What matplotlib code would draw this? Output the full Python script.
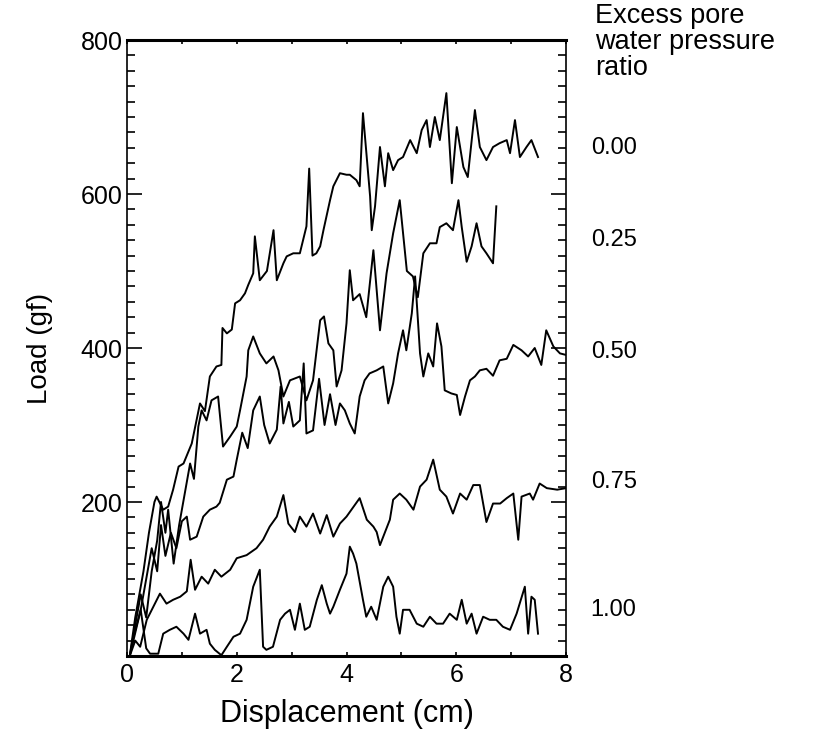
import matplotlib
matplotlib.use("Agg")
import matplotlib.pyplot as plt
import numpy as np

plt.rcParams['font.family'] = ['Liberation Sans', 'DejaVu Sans']

# values: displacement (cm) vs load (gf)
disp_000 = [0.05, 0.15, 0.30, 0.40, 0.50, 0.54, 0.66, 0.75, 0.84, 0.94,
            1.03, 1.18, 1.33, 1.42, 1.51, 1.63, 1.72, 1.74, 1.82, 1.91,
            1.97, 2.06, 2.15, 2.21, 2.30, 2.33, 2.42, 2.55, 2.67, 2.73,
            2.85, 2.91, 3.03, 3.15, 3.27, 3.32, 3.38, 3.45, 3.52, 3.58,
            3.70, 3.76, 3.88, 4.00, 4.06, 4.18, 4.24, 4.30, 4.43, 4.46,
            4.52, 4.61, 4.70, 4.76, 4.85, 4.94, 5.03, 5.16, 5.28, 5.37,
            5.46, 5.52, 5.61, 5.70, 5.82, 5.92, 6.01, 6.13, 6.21, 6.34,
            6.43, 6.55, 6.67, 6.79, 6.92, 6.98, 7.07, 7.16, 7.28, 7.37,
            7.49]
load_000 = [0, 50, 110, 160, 200, 207, 190, 194, 216, 246,
            250, 276, 328, 318, 363, 376, 378, 426, 419, 424,
            458, 462, 471, 482, 497, 545, 488, 500, 553, 488,
            510, 519, 523, 523, 558, 633, 520, 523, 532, 553,
            592, 610, 627, 625, 625, 618, 610, 705, 597, 553,
            584, 661, 610, 653, 631, 644, 648, 670, 653, 683,
            696, 661, 700, 670, 731, 614, 687, 635, 622, 709,
            661, 644, 661, 666, 670, 653, 696, 648, 661, 670,
            648]

disp_025 = [0.05, 0.15, 0.25, 0.35, 0.45, 0.55, 0.62, 0.70, 0.75, 0.85,
            0.95, 1.05, 1.15, 1.22, 1.30, 1.36, 1.45, 1.54, 1.66, 1.75,
            1.88, 2.00, 2.06, 2.18, 2.21, 2.30, 2.42, 2.54, 2.67, 2.76,
            2.85, 2.97, 3.15, 3.27, 3.39, 3.52, 3.59, 3.67, 3.76, 3.82,
            3.91, 4.00, 4.06, 4.12, 4.24, 4.36, 4.49, 4.61, 4.73, 4.85,
            4.97, 5.10, 5.21, 5.30, 5.40, 5.52, 5.64, 5.70, 5.82, 5.94,
            6.04, 6.10, 6.19, 6.28, 6.37, 6.46, 6.55, 6.67, 6.73]
load_025 = [0, 40, 80, 50, 110, 150, 200, 160, 190, 120,
            170, 210, 250, 230, 298, 319, 306, 332, 337, 272,
            285, 298, 319, 363, 397, 415, 393, 380, 389, 371,
            337, 358, 363, 332, 358, 436, 441, 406, 397, 350,
            371, 432, 501, 462, 470, 440, 527, 423, 497, 549,
            592, 500, 493, 466, 523, 536, 536, 557, 562, 553,
            592, 557, 512, 532, 562, 532, 523, 510, 584]

disp_050 = [0.05, 0.15, 0.25, 0.35, 0.45, 0.55, 0.62, 0.70, 0.80, 0.90,
            1.00, 1.09, 1.15, 1.27, 1.39, 1.51, 1.63, 1.69, 1.82, 1.94,
            2.00, 2.10, 2.20, 2.30, 2.42, 2.50, 2.60, 2.73, 2.80, 2.85,
            2.95, 3.03, 3.15, 3.22, 3.27, 3.39, 3.50, 3.60, 3.70, 3.80,
            3.88, 3.97, 4.06, 4.15, 4.24, 4.33, 4.42, 4.55, 4.67, 4.76,
            4.85, 4.94, 5.03, 5.09, 5.19, 5.25, 5.34, 5.40, 5.49, 5.58,
            5.65, 5.73, 5.79, 5.91, 6.01, 6.07, 6.16, 6.25, 6.34, 6.43,
            6.55, 6.67, 6.79, 6.92, 7.04, 7.19, 7.31, 7.43, 7.55, 7.64,
            7.77, 7.89, 8.00]
load_050 = [0, 30, 60, 100, 140, 110, 170, 130, 160, 140,
            175, 181, 151, 155, 181, 190, 194, 199, 229, 233,
            255, 290, 270, 319, 337, 300, 276, 294, 350, 302,
            330, 298, 306, 380, 289, 293, 360, 300, 340, 300,
            328, 319, 302, 289, 337, 358, 367, 371, 376, 328,
            354, 393, 423, 397, 445, 493, 393, 363, 393, 376,
            432, 402, 345, 341, 339, 313, 337, 358, 363, 371,
            373, 364, 384, 386, 404, 397, 389, 400, 378, 423,
            402, 393, 391]

disp_075 = [0.05, 0.15, 0.24, 0.36, 0.48, 0.60, 0.72, 0.84, 0.97, 1.09,
            1.16, 1.24, 1.36, 1.48, 1.60, 1.72, 1.88, 2.00, 2.18, 2.36,
            2.48, 2.60, 2.73, 2.85, 2.94, 3.06, 3.15, 3.27, 3.39, 3.52,
            3.64, 3.76, 3.88, 4.00, 4.24, 4.37, 4.49, 4.55, 4.61, 4.67,
            4.79, 4.85, 4.97, 5.09, 5.22, 5.34, 5.46, 5.58, 5.70, 5.82,
            5.94, 6.07, 6.19, 6.31, 6.43, 6.55, 6.67, 6.80, 6.92, 7.04,
            7.13, 7.19, 7.34, 7.40, 7.52, 7.65, 7.84, 8.00]
load_075 = [0, 20, 12, 47, 64, 81, 68, 73, 77, 84,
            125, 86, 103, 94, 112, 103, 112, 127, 131, 140,
            151, 168, 181, 209, 172, 161, 181, 168, 185, 159,
            183, 155, 172, 181, 205, 177, 168, 161, 144, 155,
            177, 203, 211, 203, 190, 220, 229, 255, 216, 207,
            185, 211, 203, 222, 222, 174, 198, 198, 205, 211,
            151, 207, 211, 203, 224, 218, 216, 218]

disp_100 = [0.10, 0.25, 0.35, 0.42, 0.57, 0.66, 0.78, 0.90, 1.03, 1.12,
            1.24, 1.33, 1.45, 1.51, 1.60, 1.72, 1.82, 1.94, 2.06, 2.18,
            2.30, 2.42, 2.48, 2.54, 2.66, 2.79, 2.88, 2.97, 3.06, 3.15,
            3.24, 3.33, 3.46, 3.55, 3.64, 3.70, 3.76, 3.88, 4.00, 4.06,
            4.12, 4.18, 4.30, 4.36, 4.45, 4.55, 4.67, 4.76, 4.85, 4.91,
            4.97, 5.03, 5.15, 5.28, 5.40, 5.52, 5.64, 5.76, 5.88, 6.01,
            6.10, 6.19, 6.28, 6.37, 6.49, 6.61, 6.73, 6.85, 6.98, 7.10,
            7.25, 7.31, 7.37, 7.43, 7.49]
load_100 = [20, 60, 10, 3, 3, 29, 34, 38, 29, 21,
            55, 29, 34, 16, 8, 1, 12, 25, 29, 47,
            90, 112, 12, 8, 12, 47, 55, 60, 34, 68,
            34, 38, 73, 92, 68, 55, 64, 86, 107, 142,
            133, 120, 73, 51, 64, 47, 90, 103, 90, 51,
            29, 60, 60, 42, 38, 51, 42, 42, 55, 47,
            73, 42, 55, 29, 51, 47, 47, 38, 34, 55,
            90, 29, 77, 73, 29]

ratio_labels = ['0.00', '0.25', '0.50', '0.75', '1.00']

curves = [(disp_000, load_000), (disp_025, load_025), (disp_050, load_050),
          (disp_075, load_075), (disp_100, load_100)]

# where the ratio labels sit beside the right axis (load units)
label_y = [660, 540, 395, 226, 60]

fig = plt.figure(figsize=(8.17, 7.44), dpi=100)
ax = fig.add_axes([127 / 817, 1 - 656 / 744, 439 / 817, 616 / 744])

for x, y in curves:
    ax.plot(x, y, color='black', linewidth=1.4, solid_joinstyle='round')

ax.set_xlim(0, 8)
ax.set_ylim(0, 800)
ax.set_xticks([0, 2, 4, 6, 8])
ax.set_xticks(np.arange(0, 8.1, 1), minor=True)
ax.set_yticks([0, 200, 400, 600, 800])
ax.set_yticklabels(['', '200', '400', '600', '800'])
ax.set_yticks(np.arange(0, 801, 20), minor=True)

ax.tick_params(which='both', direction='in', top=True, right=True,
               labelsize=18, width=1.2, color='black')
ax.tick_params(axis='y', which='major', length=11, pad=3)
ax.tick_params(axis='y', which='minor', length=6)
ax.tick_params(axis='x', which='both', length=3, pad=5)

for side in ['top', 'bottom']:
    ax.spines[side].set_linewidth(2.2)
for side in ['left', 'right']:
    ax.spines[side].set_linewidth(1.2)

ax.set_xlabel('Displacement (cm)', fontsize=22, labelpad=9)
ax.set_ylabel('Load (gf)', fontsize=20, labelpad=20)

for txt, yv in zip(ratio_labels, label_y):
    ax.text(8.45, yv, txt, fontsize=17, va='center', ha='left', clip_on=False)

fig.text(595 / 817, 1 - 3 / 744, 'Excess pore\nwater pressure\nratio',
         fontsize=19.5, va='top', ha='left', linespacing=1.0)

fig.savefig('out.png', dpi=100)
